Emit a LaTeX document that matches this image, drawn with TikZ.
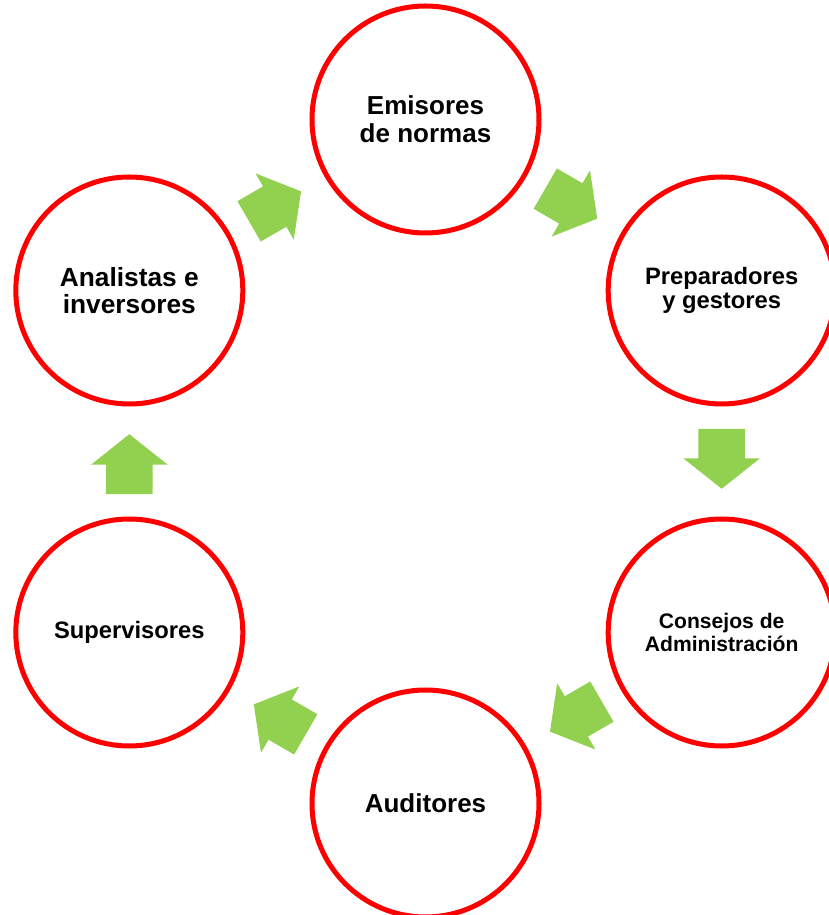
\documentclass[tikz,border=0pt]{standalone}
\usepackage{fontspec}
\setmainfont{Liberation Sans}
\usetikzlibrary{shapes.arrows}
\definecolor{verde}{RGB}{146,208,80}

\begin{document}
\begin{tikzpicture}[
    actor/.style={circle, draw=red, line width=3.56pt, fill=white, minimum size=5.675cm, inner sep=0pt, align=center},
    flecha/.style={single arrow, fill=verde, draw=none, minimum height=1.5cm, inner xsep=0pt, inner ysep=0.575cm, single arrow head extend=0.375cm, single arrow tip angle=103, sloped, allow upside down, anchor=tail, pos=0.2}
]

\def\radio{8.55}
\useasboundingbox (-10.6375,-11.3375) rectangle (10.0625,11.5375);

\node[actor, font=\bfseries\fontsize{18.5}{20}\selectfont] (emisores) at (90:\radio) {Emisores\\de normas};
\node[actor, font=\bfseries\fontsize{16.9}{17.2}\selectfont] (preparadores) at (30:\radio) {Preparadores\\y gestores};
\node[actor, font=\bfseries\fontsize{15}{16.4}\selectfont] (consejos) at (-30:\radio) {Consejos de\\Administración};
\node[actor, font=\bfseries\fontsize{18.5}{20}\selectfont] (auditores) at (-90:\radio) {Auditores};
\node[actor, font=\bfseries\fontsize{16.9}{17}\selectfont] (supervisores) at (-150:\radio) {Supervisores};
\node[actor, font=\bfseries\fontsize{18.7}{19.4}\selectfont] (analistas) at (150:\radio) {Analistas e\\inversores};

\foreach \a/\b in {analistas/emisores, emisores/preparadores, preparadores/consejos, consejos/auditores, auditores/supervisores, supervisores/analistas}
{
    \path (\a) -- node[flecha] {} (\b);
}

\end{tikzpicture}
\end{document}
